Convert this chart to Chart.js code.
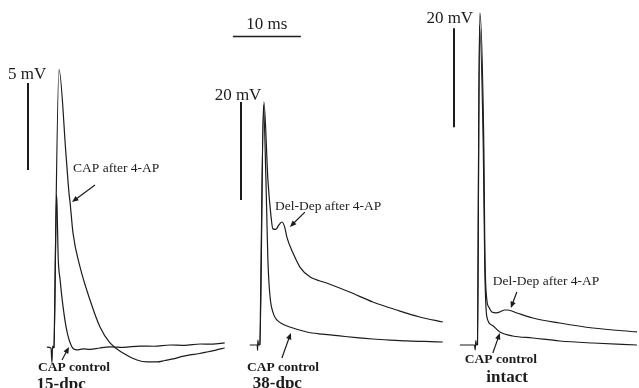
<!DOCTYPE html>
<html>
<head>
<meta charset="utf-8">
<script src="https://cdn.jsdelivr.net/npm/chart.js@4.4.0/dist/chart.umd.min.js"></script>
<style>
  html, body { margin: 0; padding: 0; background: #fff; }
  #wrap { width: 639px; height: 388px; }
</style>
</head>
<body>
<div id="wrap"><canvas id="myChart" width="639" height="388"></canvas></div>
<script>
// stimulus onset of each recording on the shared time axis (ms)
const onsets = [7.65, 37.94, 70.0];

// traces as [ms after stimulus, mV] pairs
// 15-dpc
const dpc15Control = [
  [-0.75, 0.05], [-0.15, 0.0], [0.0, -0.85], [0.08, 0.1], [0.3, 0.0],
  [0.66, 8.8], [0.74, 8.2], [0.9, 5.3], [1.2, 3.9], [1.6, 2.45], [2.2, 0.95],
  [2.94, 0.06], [3.68, -0.11], [4.6, -0.05], [5.6, -0.08], [7.0, 0.0],
  [8.5, 0.06], [10.5, 0.04], [12.9, 0.11], [15.0, 0.1], [17.4, 0.17],
  [19.5, 0.15], [21.8, 0.23], [23.6, 0.22], [25.4, 0.29]
];
const dpc15After = [
  [0.3, 0.0], [1.03, 16.0], [2.06, 11.1], [2.5, 8.9], [2.65, 8.4],
  [3.09, 6.6], [4.12, 4.66], [5.59, 2.76], [7.06, 1.21], [8.53, 0.29],
  [10.44, -0.29], [12.5, -0.69], [14.0, -0.8], [15.44, -0.8], [16.6, -0.72],
  [17.8, -0.63], [19.0, -0.5], [20.3, -0.4], [21.5, -0.33], [22.8, -0.23],
  [24.1, -0.12], [25.4, 0.0]
];
// 38-dpc
const dpc38Control = [
  [-1.2, 0.0], [-0.1, 0.0], [-0.05, -1.1], [0.0, 1.0], [0.1, 0.0], [0.3, 0.0],
  [0.81, 49.0], [1.18, 33.7], [1.32, 25.5], [1.47, 17.3], [1.76, 10.2],
  [2.2, 6.7], [2.79, 5.1], [3.6, 4.3], [4.7, 3.67], [7.2, 2.65],
  [9.5, 2.2], [12.06, 1.84], [14.5, 1.5], [16.9, 1.22], [19.4, 1.0],
  [21.9, 0.82], [24.5, 0.72], [27.2, 0.61]
];
const dpc38DelDep = [
  [0.3, 0.0], [0.88, 49.6], [1.47, 33.7], [1.91, 26.5], [2.2, 23.7],
  [2.65, 23.6], [3.09, 24.5], [3.53, 25.1], [3.97, 23.9], [4.26, 22.0],
  [5.15, 18.8], [6.18, 15.9], [7.65, 13.9], [10.1, 12.65], [13.5, 10.8],
  [16.9, 8.78], [20.4, 7.14], [23.8, 5.71], [27.2, 4.69]
];
// intact
const intactControl = [
  [-2.35, 0.0], [-0.2, 0.0], [-0.1, -1.0], [0.0, 0.9], [0.1, 0.0], [0.25, 0.0],
  [0.52, 64.6], [1.1, 39.4], [1.32, 15.2], [1.62, 5.66], [2.35, 4.04],
  [3.53, 2.63], [5.44, 1.82], [8.38, 1.41], [12.35, 0.81], [17.2, 0.4],
  [23.7, 0.0]
];
const intactDelDep = [
  [0.25, 0.0], [0.59, 67.1], [1.18, 39.4], [1.32, 19.2], [1.62, 9.1],
  [1.91, 7.68], [2.35, 6.67], [3.0, 6.5], [3.53, 6.67], [4.26, 7.07],
  [4.7, 7.07], [6.03, 6.46], [8.38, 5.45], [12.35, 4.44], [17.2, 3.43],
  [23.7, 2.63]
];

// scale bars: [panel, ms position, from mV, to mV]
const voltBars = [[0, 4.12, 10.23, 15.23], [1, 35.44, 29.6, 49.6], [2, 66.76, 44.0, 64.0]];
const timeBar = [34.26, 44.26, 63.1]; // from ms, to ms, mV on panel 2 axis

// text labels: [panel, ms, mV, text, font, align]
const serif = '"Liberation Serif"';
const labels = [
  [0, 1.18, 15.69, '5 mV', '17px ' + serif, 'left'],
  [1, 38.45, 51.0, '20 mV', '17px ' + serif, 'right'],
  [2, 69.6, 65.86, '20 mV', '17px ' + serif, 'right'],
  [1, 39.26, 65.4, '10 ms', '17px ' + serif, 'center'],
  [0, 10.74, 10.34, 'CAP after 4-AP', '13.5px ' + serif, 'left'],
  [1, 40.44, 28.2, 'Del-Dep after 4-AP', '13.5px ' + serif, 'left'],
  [2, 72.5, 12.93, 'Del-Dep after 4-AP', '13.5px ' + serif, 'left'],
  [0, 5.59, -1.15, 'CAP control', 'bold 13.5px ' + serif, 'left'],
  [1, 36.32, -4.69, 'CAP control', 'bold 13.5px ' + serif, 'left'],
  [2, 68.38, -3.03, 'CAP control', 'bold 13.5px ' + serif, 'left'],
  [0, 9.0, -2.1, '15-dpc', 'bold 17px ' + serif, 'center'],
  [1, 40.8, -7.96, '38-dpc', 'bold 17px ' + serif, 'center'],
  [2, 74.6, -6.5, 'intact', 'bold 17px ' + serif, 'center']
];

// arrows: [panel, from ms, from mV, to ms, to mV]
const arrows = [
  [0, 13.97, 9.37, 10.59, 8.39],
  [0, 9.12, -0.69, 10.15, 0.06],
  [1, 44.85, 27.1, 42.65, 24.1],
  [1, 41.47, -2.65, 42.79, 2.45],
  [2, 76.03, 10.7, 75.15, 7.47],
  [2, 72.5, -1.62, 73.53, 2.42]
];

const axisIds = ['y1', 'y2', 'y3'];
const ink = '#1c1c1c';

function toPoints(trace, panel) {
  return trace.map(p => ({ x: onsets[panel] + p[0], y: p[1] }));
}

function traceSet(trace, panel) {
  return {
    data: toPoints(trace, panel),
    yAxisID: axisIds[panel],
    borderColor: ink,
    borderWidth: 1.2,
    pointRadius: 0,
    cubicInterpolationMode: 'monotone',
    fill: false
  };
}

function drawArrow(ctx, x1, y1, x2, y2) {
  const a = Math.atan2(y2 - y1, x2 - x1);
  const head = 7;
  ctx.beginPath();
  ctx.moveTo(x1, y1);
  ctx.lineTo(x2 - Math.cos(a) * 3, y2 - Math.sin(a) * 3);
  ctx.stroke();
  ctx.beginPath();
  ctx.moveTo(x2, y2);
  ctx.lineTo(x2 - head * Math.cos(a - 0.4), y2 - head * Math.sin(a - 0.4));
  ctx.lineTo(x2 - head * Math.cos(a + 0.4), y2 - head * Math.sin(a + 0.4));
  ctx.closePath();
  ctx.fill();
}

// scale bars, labels and arrows
const decorations = {
  id: 'decorations',
  afterDatasetsDraw(chart) {
    const ctx = chart.ctx;
    const xs = chart.scales.x;
    const ys = axisIds.map(id => chart.scales[id]);
    ctx.save();
    ctx.strokeStyle = ink;
    ctx.fillStyle = ink;

    ctx.lineWidth = 2;
    voltBars.forEach(b => {
      const x = Math.round(xs.getPixelForValue(b[1]));
      ctx.beginPath();
      ctx.moveTo(x, ys[b[0]].getPixelForValue(b[2]));
      ctx.lineTo(x, ys[b[0]].getPixelForValue(b[3]));
      ctx.stroke();
    });
    const ty = Math.round(ys[1].getPixelForValue(timeBar[2])) + 0.5;
    ctx.lineWidth = 1.6;
    ctx.beginPath();
    ctx.moveTo(xs.getPixelForValue(timeBar[0]), ty);
    ctx.lineTo(xs.getPixelForValue(timeBar[1]), ty);
    ctx.stroke();

    ctx.textBaseline = 'middle';
    labels.forEach(l => {
      ctx.font = l[4];
      ctx.textAlign = l[5];
      ctx.fillText(l[3], xs.getPixelForValue(l[1]), ys[l[0]].getPixelForValue(l[2]));
    });

    ctx.lineWidth = 1.2;
    arrows.forEach(a => {
      const y = ys[a[0]];
      drawArrow(ctx, xs.getPixelForValue(a[1]), y.getPixelForValue(a[2]),
        xs.getPixelForValue(a[3]), y.getPixelForValue(a[4]));
    });
    ctx.restore();
  }
};

let ctx = document.getElementById('myChart').getContext('2d');
let myChart = new Chart(ctx, {
  type: 'line',
  data: {
    datasets: [
      traceSet(dpc15Control, 0),
      traceSet(dpc15After, 0),
      traceSet(dpc38Control, 1),
      traceSet(dpc38DelDep, 1),
      traceSet(intactControl, 2),
      traceSet(intactDelDep, 2)
    ]
  },
  options: {
    responsive: false,
    animation: false,
    devicePixelRatio: 1,
    layout: { padding: 0 },
    plugins: { legend: { display: false }, tooltip: { enabled: false } },
    scales: {
      x: { type: 'linear', min: 0, max: 94, display: false },
      y1: { type: 'linear', min: -2.3, max: 20.0, display: false },
      y2: { type: 'linear', min: -8.78, max: 70.4, display: false },
      y3: { type: 'linear', min: -8.69, max: 69.7, display: false }
    }
  },
  plugins: [decorations]
});
</script>
</body>
</html>
